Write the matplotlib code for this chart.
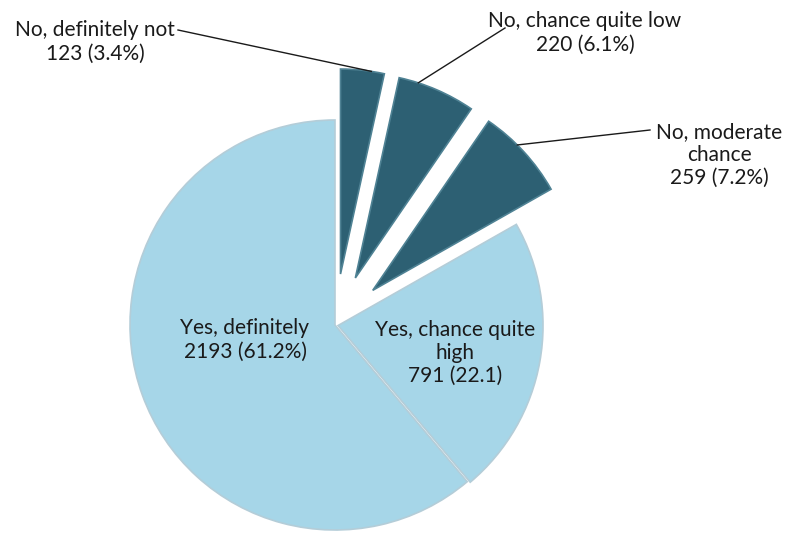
import numpy as np
import matplotlib
matplotlib.use("Agg")
import matplotlib.pyplot as plt

plt.rcParams['font.family'] = ['Lato', 'DejaVu Sans']

# Survey answers, clockwise from 12 o'clock
labels = ["No, definitely not", "No, chance quite low", "No, moderate\nchance",
          "Yes, chance quite\nhigh", "Yes, definitely"]
counts = [123, 220, 259, 791, 2193]
pct_text = ["123 (3.4%)", "220 (6.1%)", "259 (7.2%)", "791 (22.1)", "2193 (61.2%)"]

light = "#a6d6e8"
dark = "#2d6073"
colors = [dark, dark, dark, light, light]
edges = ["#4f8294", "#4f8294", "#4f8294", "#b4cdd8", "#b4cdd8"]

fig = plt.figure(figsize=(7.86, 5.33), dpi=100)
ax = fig.add_axes([0, 0, 1, 1])

# Pie in pixel units (y axis points up, so 533 - y_image)
cx, cy, r = 335, 533 - 325, 205
explode = np.array([0.25, 0.25, 0.25, 0.015, 0.0]) * r  # pie explodes in data units
wedges, _ = ax.pie(counts, colors=colors, startangle=90, counterclock=False,
                   explode=explode, center=(cx, cy), radius=r, frame=True,
                   wedgeprops=dict(linewidth=1.2))
for w, ec in zip(wedges, edges):
    w.set_edgecolor(ec)
ax.set_xlim(0, 786)
ax.set_ylim(0, 533)
ax.set_aspect(1)
ax.axis('off')

fs = 15

# Inside labels
ax.text(245, 533 - 340, labels[4] + "\n" + pct_text[4], ha='center', va='center',
        fontsize=fs, color='#1a1a1a', linespacing=1.2)
ax.text(455, 533 - 353, labels[3] + "\n" + pct_text[3], ha='center', va='center',
        fontsize=fs, color='#1a1a1a', linespacing=1.2)


def arc_point(w, frac):
    ang = np.deg2rad(w.theta1 + (w.theta2 - w.theta1) * frac)
    x0, y0 = w.center
    return x0 + w.r * np.cos(ang), y0 + w.r * np.sin(ang)


# Outside labels with leader lines
outside = [
    (0, (95, 533 - 42), (178, 533 - 30), 0.3),
    (1, (585, 533 - 33), (505, 533 - 28), 0.75),
    (2, (719, 533 - 155), (650, 533 - 130), 0.6),
]
for i, txt_xy, line_start, frac in outside:
    ax.text(txt_xy[0], txt_xy[1], labels[i] + "\n" + pct_text[i], ha='center',
            va='center', fontsize=fs, color='#1a1a1a', linespacing=1.2)
    px, py = arc_point(wedges[i], frac)
    ax.plot([line_start[0], px], [line_start[1], py], color='#1a1a1a', lw=1.0)

fig.savefig("out.png", dpi=100)
